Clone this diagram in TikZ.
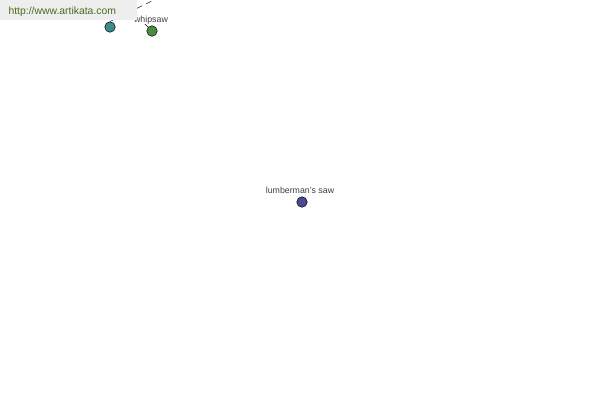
\documentclass[tikz,border=0pt]{standalone}
\usepackage{fontspec}
\setmainfont{Liberation Sans}
\definecolor{dotteal}{HTML}{3C8C8C}
\definecolor{dotgreen}{HTML}{4A8C40}
\definecolor{dotblue}{HTML}{4A4A94}
\definecolor{urlgreen}{HTML}{4A6A1A}
\definecolor{urlgray}{HTML}{EEEEEE}
\tikzset{
  sawdot/.style={circle,draw=black,line width=0.5pt,minimum size=10.5pt,inner sep=0pt},
  sawlabel/.style={font=\fontsize{8.8}{9}\selectfont,text=black!75,fill=white,inner sep=0.3pt},
  sawlink/.style={line width=0.4pt,dash pattern=on 6pt off 4pt},
}

\begin{document}
\begin{tikzpicture}[x=1pt,y=-1pt]
\useasboundingbox[fill=white] (0,0) rectangle (600,400);
% word dots
\node[sawdot,fill=dotteal] (teal) at (110,27) {};
\node[sawdot,fill=dotgreen] (whipsaw) at (152,31) {};
\node[sawdot,fill=dotblue] (lumber) at (302,202) {};
\coordinate (tealout) at (156,-1);
\coordinate (whipout) at (125,4);

% links
\draw[sawlink] (teal.north) -- (tealout);
\draw[line width=0.4pt] (whipsaw) -- (whipout);

% labels
\node[sawlabel] at (151,20) {whipsaw};
\node[sawlabel] at (300,190.5) {lumberman's saw};

% site box
\fill[urlgray] (0,0) rectangle (137,20);
\node[anchor=west,text=urlgreen,font=\fontsize{10.4}{12}\selectfont] at (5,11.5) {http://www.artikata.com};
\end{tikzpicture}
\end{document}
